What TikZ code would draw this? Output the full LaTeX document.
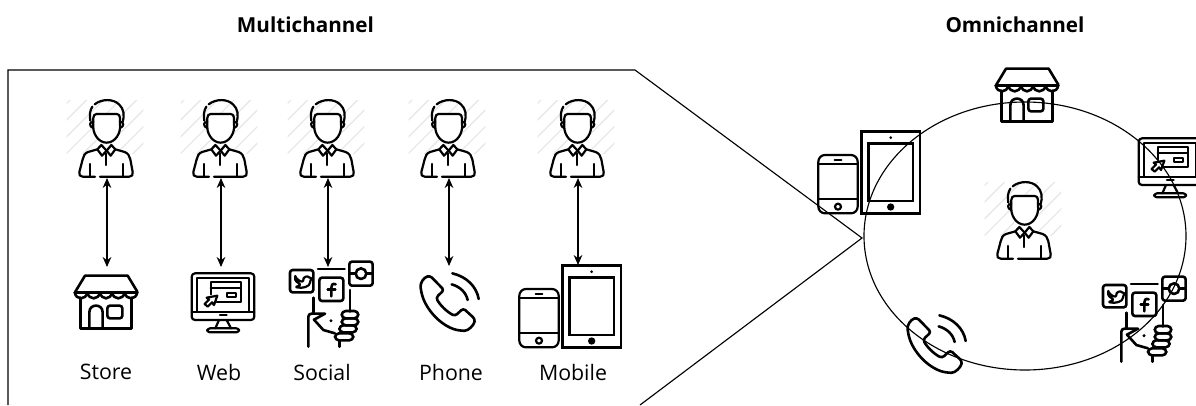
\documentclass[tikz,border=0pt]{standalone}
\usepackage{fontspec}
\setmainfont{Open Sans}
\usetikzlibrary{arrows.meta}
\tikzset{
  px/.style={x=0.75pt,y=-0.75pt},
  zm/.style={x=0.25pt,y=-0.25pt},
  ink/.style={draw=black,line width=1.65pt,line cap=round,line join=round},
  bold ink/.style={draw=black,line width=1.95pt,line cap=round,line join=round},
  connector/.style={draw=black,line width=0.85pt,{Stealth[length=7.5pt,width=6.5pt]}-{Stealth[length=7.5pt,width=6.5pt]}},
  outline/.style={draw=black,line width=0.85pt},
  label/.style={font=\fontsize{16pt}{18pt}\selectfont,text=black},
  heading/.style={font=\bfseries\fontsize{15.5pt}{18pt}\selectfont,text=black},
  person/.pic={
    \begin{scope}[zm]
      \begin{scope}
        \clip (20,30) rectangle (250,190);
        \foreach \c in {60,110,...,460}
          \draw[line width=1pt,draw=black!9] (\c-200,200) -- (\c,0);
      \end{scope}
      \fill[white] (112,178) -- (80,185) -- (68,205) -- (58,258) -- (218,258) -- (208,205) -- (200,185) -- (165,176) -- (140,150) -- cycle;
      \path[ink,fill=white] (100,100) .. controls (96,130) and (115,158) .. (140,158) .. controls (165,158) and (184,130) .. (180,100) -- (180,84) .. controls (180,76) and (176,72) .. (170,72) -- (110,72) .. controls (104,72) and (100,76) .. (100,84) -- cycle;
      \path[ink] (104,43) .. controls (125,26) and (160,26) .. (177,43) .. controls (192,56) and (194,78) .. (188,96);
      \path[ink] (97,50) .. controls (90,60) and (88,75) .. (91,92);
      \path[ink] (100,96) .. controls (88,94) and (86,110) .. (100,114);
      \path[ink] (180,96) .. controls (192,94) and (194,110) .. (180,114);
      \path[ink] (112,178) -- (124,165) -- (140,182) -- (126,197) -- cycle;
      \path[ink] (166,178) -- (154,165) -- (140,182) -- (152,197) -- cycle;
      \path[ink] (138,190) -- (138,225);
      \path[ink] (112,178) -- (84,186) .. controls (74,190) and (70,198) .. (68,208) -- (58,246) .. controls (56,254) and (60,260) .. (68,260) -- (105,260);
      \path[ink] (120,260) -- (208,260) .. controls (216,260) and (220,254) .. (218,246) -- (211,208) .. controls (209,198) and (204,190) .. (194,186) -- (166,178);
      \path[ink] (90,222) -- (90,258);
      \path[ink] (188,222) -- (188,258);
    \end{scope}
  },
  store/.pic={
    \begin{scope}[zm]
      \path[bold ink] (46,110) -- (75,62) -- (203,62) -- (232,110);
      \path[bold ink] (44,112) -- (232,112);
      \path[bold ink] (44,112) .. controls (48,136) and (78,136) .. (82,112) .. controls (86,136) and (116,136) .. (120,112) .. controls (124,136) and (152,136) .. (156,112) .. controls (160,136) and (190,136) .. (194,112) .. controls (198,136) and (228,136) .. (232,112);
      \path[bold ink] (62,128) -- (62,220) -- (215,220) -- (215,128);
      \path[bold ink] (88,220) -- (88,172) .. controls (88,145) and (128,145) .. (128,172) -- (128,220);
      \path[bold ink,rounded corners=2pt] (142,152) rectangle (187,190);
    \end{scope}
  },
  web/.pic={
    \begin{scope}[zm]
      \path[ink,rounded corners=2.5pt] (395,55) rectangle (583,195);
      \path[ink] (412,170) -- (412,70) -- (567,70) -- (567,170);
      \path[ink] (395,170) -- (583,170);
      \path[ink] (480,181) -- (500,181);
      \path[ink] (477,195) -- (466,220);
      \path[ink] (500,195) -- (513,220);
      \path[ink,rounded corners=2pt] (442,220) rectangle (537,232);
      \path[ink] (452,118) -- (452,80) -- (542,80) -- (542,142) -- (470,142);
      \path[ink] (452,98) -- (542,98);
      \path[ink] (500,115) rectangle (528,127);
      \path[ink] (472,122) -- (462,150) -- (456,142) -- (443,155) -- (434,147) -- (447,134) -- (440,128) -- cycle;
    \end{scope}
  },
  social/.pic={
    \begin{scope}[zm]
      \path[bold ink,rounded corners=2pt] (690,45) rectangle (760,112);
      \path[ink,rounded corners=0.8pt] (706,66) .. controls (714,76) and (722,80) .. (730,80) .. controls (728,66) and (742,60) .. (750,70) -- (756,68) -- (750,80) .. controls (750,94) and (728,102) .. (706,96) .. controls (714,94) and (718,92) .. (722,88) .. controls (712,84) and (704,76) .. (706,66) -- cycle;
      \path[bold ink,rounded corners=2pt] (778,68) rectangle (850,138);
      \path[bold ink] (827,88) .. controls (817,84) and (814,90) .. (814,98) -- (814,124);
      \path[bold ink] (803,104) -- (826,104);
      \path[bold ink] (774,42) -- (854,42);
      \path[bold ink,rounded corners=2pt] (868,20) rectangle (938,92);
      \path[bold ink] (903,56) circle [radius=16];
      \path[bold ink] (868,56) -- (887,56);
      \path[bold ink] (919,56) -- (938,56);
      \path[bold ink] (760,128) -- (760,172);
      \path[bold ink] (870,105) -- (870,170);
      \path[bold ink] (745,275) -- (745,185) .. controls (745,178) and (750,176) .. (755,176) -- (795,176) -- (762,194) -- (790,225) -- (825,235);
      \path[bold ink,rounded corners=3pt] (845,168) rectangle (895,190);
      \path[bold ink,rounded corners=3pt] (845,190) rectangle (895,211);
      \path[bold ink,rounded corners=3pt] (838,211) rectangle (890,232);
      \path[bold ink,rounded corners=3pt] (825,235) rectangle (880,256);
      \fill (813,197) circle [radius=5];
      \path[bold ink] (838,256) -- (838,275);
    \end{scope}
  },
  handset/.pic={
    \begin{scope}[zm]
      \path[bold ink,rounded corners=2pt] (90,62) .. controls (70,68) and (60,85) .. (63,105) .. controls (75,165) and (130,220) .. (185,227) .. controls (205,228) and (222,210) .. (225,192) -- (190,160) -- (165,183) .. controls (140,170) and (120,150) .. (108,128) -- (132,105) -- cycle;
      \path[bold ink] (157,55) .. controls (200,65) and (230,95) .. (236,132);
      \path[bold ink] (155,88) .. controls (180,95) and (198,112) .. (203,135);
    \end{scope}
  },
  mobile/.pic={
    \begin{scope}[zm]
      \path[ink,rounded corners=5pt] (358,102) rectangle (476,277);
      \path[ink] (358,130) -- (476,130);
      \path[ink] (358,235) -- (476,235);
      \path[ink] (407,118) -- (427,118);
      \path[ink] (417,257) circle [radius=9];
      \path[draw=black,line width=2.1pt] (487,32) rectangle (663,277);
      \path[draw=black,line width=2.1pt] (509,67) rectangle (642,240);
      \fill (575,50) circle [radius=4.5];
      \fill (575,258) circle [radius=11];
    \end{scope}
  }
}
\begin{document}
\begin{tikzpicture}[px]
  \useasboundingbox (0,0) rectangle (1196,405);
  \clip (0,0) rectangle (1196,405);
  \node[heading] (titleM) at (305.5,25) {Multichannel};
  \node[heading] (titleO) at (1015,25) {Omnichannel};
  \coordinate (pA) at (8,405);
  \coordinate (pB) at (8,70);
  \coordinate (pC) at (635,70);
  \coordinate (pD) at (862,238);
  \coordinate (pE) at (640,405);
  \draw[outline] (pA) -- (pB) -- (pC) -- (pD) -- (pE);
  % persons
  \pic (person1) at (60,90) {person};
  \pic (person2) at (174,90) {person};
  \pic (person3) at (281,90) {person};
  \pic (person4) at (402,90) {person};
  \pic (person5) at (531,90) {person};
  % channel icons
  \pic (store1) at (60,255) {store};
  \pic (web1) at (60,255) {web};
  \pic (social1) at (60,255) {social};
  \pic (phone1) at (400,255) {handset};
  \pic (mobile1) at (400,255) {mobile};
  % labels
  \node[label] (lStore) at (106,372) {Store};
  \node[label] (lWeb) at (219,372) {Web};
  \node[label] (lSocial) at (322,372) {Social};
  \node[label] (lPhone) at (451,372) {Phone};
  \node[label] (lMobile) at (573,372) {Mobile};
  % connectors
  \foreach \n/\x/\yb in {1/107/267,2/221/267,3/328/267,4/449/266,5/578/265}{
    \coordinate (a\n) at (\x,178);
    \coordinate (b\n) at (\x,\yb);
    \draw[connector] (a\n) -- (b\n);
  }
  % omnichannel
  \coordinate (omni) at (1025,236);
  \draw[outline] (omni) ellipse [x radius=161,y radius=134];
  \pic (personO) at (978,172) {person};
  \pic (storeO) at (981,48) {store};
  \pic (webO) at (1007,120) {web};
  \pic (socialO) at (873,270) {social};
  \pic (phoneO) at (887,297) {handset};
  \pic (mobileO) at (699,121) {mobile};
\end{tikzpicture}
\end{document}
